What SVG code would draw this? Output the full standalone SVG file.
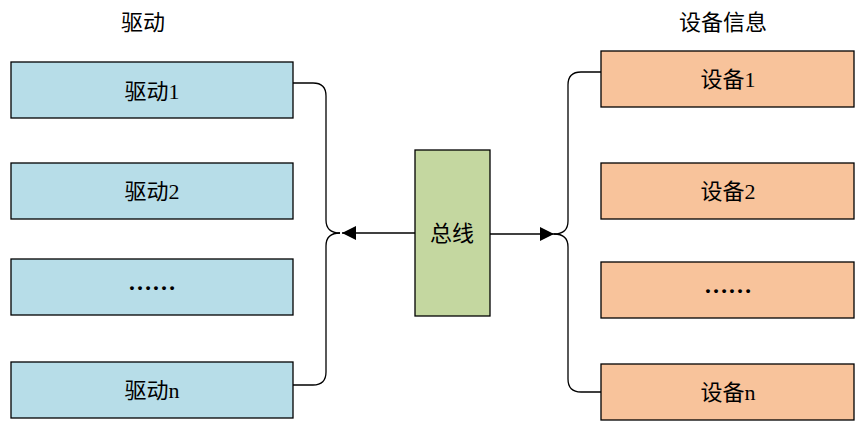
<svg xmlns="http://www.w3.org/2000/svg" width="865" height="427" viewBox="0 0 865 427">
<style>
text{font-family:"Liberation Serif","Noto Sans CJK SC",serif;font-size:22px;fill:#000;text-anchor:middle;dominant-baseline:central}
.drv{fill:#b7dde8;stroke:#000;stroke-width:1.3}
.dev{fill:#f8c39b;stroke:#000;stroke-width:1.3}
.bus{fill:#c4d7a0;stroke:#000;stroke-width:1.3}
.ln{fill:none;stroke:#000;stroke-width:1.3}
.dots{font-size:24px;font-weight:bold}
</style>
<defs>
<marker id="ah" viewBox="0 0 10 10" refX="10" refY="5" markerWidth="14" markerHeight="14" markerUnits="userSpaceOnUse" orient="auto">
<path d="M0,0 L10,5 L0,10 z" fill="#000"/>
</marker>
</defs>
<text x="143" y="22">驱动</text>
<text x="723" y="22">设备信息</text>
<g id="drv1"><rect class="drv" x="11" y="62" width="282" height="56"/><text x="152" y="91">驱动1</text></g>
<g id="drv2"><rect class="drv" x="11" y="163" width="282" height="56"/><text x="152" y="191">驱动2</text></g>
<g id="drv3"><rect class="drv" x="11" y="259" width="282" height="56"/><text class="dots" x="152" y="282">……</text></g>
<g id="drvn"><rect class="drv" x="11" y="362" width="282" height="56"/><text x="152" y="390">驱动n</text></g>
<g id="bus"><rect class="bus" x="415" y="150" width="75" height="166"/><text x="452" y="233">总线</text></g>
<g id="dev1"><rect class="dev" x="601" y="51" width="253" height="56"/><text x="728" y="79">设备1</text></g>
<g id="dev2"><rect class="dev" x="601" y="163" width="253" height="56"/><text x="728" y="191">设备2</text></g>
<g id="dev3"><rect class="dev" x="601" y="262" width="253" height="56"/><text class="dots" x="728" y="285">……</text></g>
<g id="devn"><rect class="dev" x="601" y="364" width="253" height="56"/><text x="728" y="392">设备n</text></g>
<g id="connectors">
<path class="ln" d="M293,83 H313 Q326,83 326,96 V220 Q326,233 340,233"/>
<path class="ln" d="M293,385 H313 Q326,385 326,372 V246 Q326,233 340,233"/>
<line class="ln" x1="415" y1="233" x2="342" y2="233" marker-end="url(#ah)"/>
<line class="ln" x1="490" y1="234" x2="554" y2="234" marker-end="url(#ah)"/>
<path class="ln" d="M601,72 H581 Q568,72 568,85 V221 Q568,234 554,234"/>
<path class="ln" d="M601,392 H581 Q568,392 568,379 V247 Q568,234 554,234"/>
</g>
</svg>
